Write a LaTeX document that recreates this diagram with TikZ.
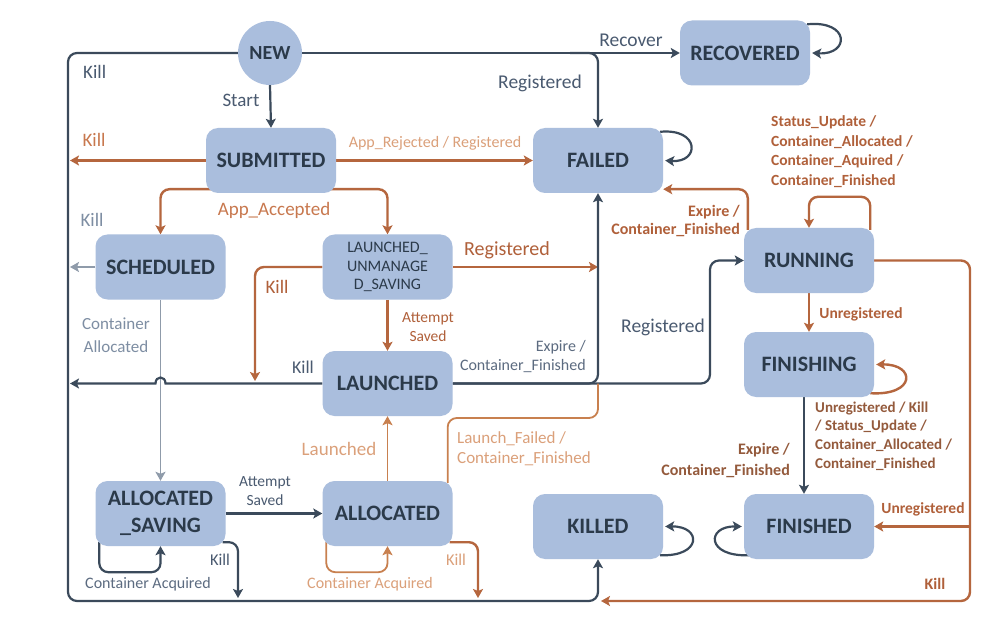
\documentclass[tikz,border=0pt]{standalone}
\usepackage{fontspec}
\setmainfont{Carlito}
\usetikzlibrary{arrows.meta,calc,backgrounds}
\definecolor{nfill}{HTML}{AABEDD}
\definecolor{ntext}{HTML}{2B3A4A}
\definecolor{dk}{HTML}{3B4A5B}
\definecolor{dktext}{HTML}{4A5A70}
\definecolor{dktext2}{HTML}{5C6B80}
\definecolor{orl}{HTML}{B5663E}
\definecolor{ortext}{HTML}{B0603A}
\definecolor{morange}{HTML}{C8784E}
\definecolor{lor}{HTML}{DBA07A}
\definecolor{lorline}{HTML}{C8804F}
\definecolor{grl}{HTML}{8F9BAA}
\definecolor{grtext}{HTML}{7E8EA3}
\definecolor{brtext}{HTML}{945A3C}
\newcommand\ffs[2]{\fontsize{#1}{#2}\selectfont}
\begin{document}
\begin{tikzpicture}[x=1pt,y=-1pt,
  state/.style={rectangle, rounded corners=12pt, fill=nfill, minimum width=130pt, minimum height=65pt, inner sep=0pt, text=ntext, align=center, font=\ffs{22}{27}\bfseries},
  hd/.style={-{Stealth[length=9pt,width=10pt,inset=2pt]}},
  dka/.style={draw=dk, line width=2.2pt, rounded corners=9pt, hd},
  ora/.style={draw=orl, line width=2.4pt, rounded corners=9pt, hd},
  lora/.style={draw=lorline, line width=1.8pt, rounded corners=9pt, hd},
  lorn/.style={draw=lorline, line width=1.8pt, rounded corners=9pt},
  gra/.style={draw=grl, line width=1.6pt, -{Stealth[length=9pt,width=10pt,inset=2pt]}},
  lab/.style={inner sep=0pt, align=center}
]
\useasboundingbox (0,0) rectangle (1007,639);

% states
\node[state, circle, minimum width=64pt, minimum height=64pt, font=\ffs{20}{24}\bfseries] (new) at (270,53) {NEW};
\node[state] (sub) at (271,160.5) {SUBMITTED};
\node[state] (failed) at (598,160.5) {FAILED};
\node[state] (recov) at (745,53) {RECOVERED};
\node[state] (sched) at (160.5,267) {SCHEDULED};
\node[state, font=\ffs{16}{18.5}] (lus) at (387.5,267) {LAUNCHED\_\\UNMANAGE\\D\_SAVING};
\node[state] (running) at (809,260.5) {RUNNING};
\node[state] (launched) at (387.5,383.5) {LAUNCHED};
\node[state] (finishing) at (809,364.5) {FINISHING};
\node[state] (asav) at (160.5,513.5) {ALLOCATED\\\_SAVING};
\node[state] (alloc) at (387.5,513.5) {ALLOCATED};
\node[state] (killed) at (598,526.5) {KILLED};
\node[state] (finished) at (809,526.5) {FINISHED};

% helper coordinates
\coordinate (ftl) at (68,53);
\coordinate (fbl) at (68,601);
\coordinate (rgb) at (570,53);
\coordinate (lk) at (255,381);
\coordinate (rj) at (710,383.5);
\coordinate (lf) at (598,418);
\coordinate (ak) at (238,598);
\coordinate (alk) at (478,598);
\coordinate (rr) at (970,601);
\coordinate (kb) at (601,601);

\begin{scope}[on background layer]
\fill[white] (0,0) rectangle (1007,639);
% outer frame (Kill) and top line
\draw[dka] (new.west) -- (ftl) -- (fbl) -| (killed.south);
\draw[dka] (new.east) -- (recov.west);
\draw[dka] (rgb) -| (failed.north);
\draw[dka] (new.south) -- (sub.north);
% SUBMITTED
\draw[ora] (sub.west) -- ($(sub.west -| ftl)+(2,0)$);
\draw[ora] (sub.east) -- (failed.west);
\draw[ora] ($(sub.south west)+(6,-4)$) -| (sched.north);
\draw[ora] ($(sub.south east)+(-6,-4)$) -| (lus.north);
% SCHEDULED
\draw[gra] (sched.west) -- ($(sched.west -| ftl)+(2,0)$);
\draw[gra] (sched.south) -- (asav.north);
% LAUNCHED_UNMANAGED_SAVING
\draw[ora] (lus.west) -| (lk);
\draw[ora] (lus.east) -- (lus.east -| failed.south);
\draw[ora] (lus.south) -- (launched.north);
% LAUNCHED
\draw[dka, sharp corners] (launched.west) -- ($(launched.west -| sched.south)+(5,0)$) .. controls ($(launched.west -| sched.south)+(5,-8)$) and ($(launched.west -| sched.south)+(-5,-8)$) .. ($(launched.west -| sched.south)+(-5,0)$) -- ($(launched.west -| ftl)+(2,0)$);
\draw[dka] (launched.east) -| (failed.south);
\draw[dka] (launched.east) -- (rj) |- (running.west);
% ALLOCATED
\draw[lorn] ($(alloc.north east)+(-5,2)$) |- (lf) -- (launched.east -| failed.south);
\draw[lora] (alloc.north) -- (launched.south);
\draw[lora] ($(alloc.south west)+(4,-4)$) -- ++(0,30) -| (alloc.south);
\draw[ora] ($(alloc.south east)+(-3,-4)$) -| (alk);
% ALLOCATED_SAVING
\draw[dka] (asav.east) -- (alloc.west);
\draw[dka] ($(asav.south west)+(4,-4)$) -- ++(0,30) -| (asav.south);
\draw[dka] ($(asav.south east)+(-3,-4)$) -| (ak);
% self loops
\draw[dka] ($(failed.north east)+(-3,4)$) .. controls (700,128) and (700,163) .. ($(failed.east)+(2,0)$);
\draw[dka] ($(recov.north east)+(-3,4)$) .. controls (850,20) and (850,55) .. ($(recov.east)+(2,0)$);
\draw[dka] ($(killed.south east)+(-3,-4)$) .. controls (702,557) and (702,526) .. ($(killed.east)+(2,0)$);
\draw[dka] ($(finished.south west)+(5,-4)$) .. controls (706,557) and (706,526) .. ($(finished.west)+(-2,0)$);
% RUNNING
\draw[ora] ($(running.north west)+(4,2)$) |- ($(failed.south east)+(0,-4)$);
\draw[ora] ($(running.north east)+(-4,2)$) -- ++(0,-33) -| (running.north);
\draw[ora] (running.south) -- (finishing.north);
\draw[ora] (running.east) -| (rr) -- (kb);
\draw[ora] (finished.east -| rr) -- (finished.east);
% FINISHING
\draw[ora] ($(finishing.south east)+(-4,-4)$) .. controls (916,396) and (916,364) .. ($(finishing.east)+(2,0)$);
\draw[dka] ($(finishing.south)+(-5,0)$) -- ($(finished.north)+(-5,0)$);
\end{scope}

% labels
\node[lab, anchor=west, text=dktext, font=\ffs{19}{22}] (l1) at (83,72) {Kill};
\node[lab, text=dktext, font=\ffs{19}{22}] (l2) at (241,100) {Start};
\node[lab, text=morange, font=\ffs{19}{22}] (l3) at (94,140) {Kill};
\node[lab, text=morange, font=\ffs{19}{22}] (l4) at (274,210) {App\_Accepted};
\node[lab, text=lor, font=\ffs{16}{19}] (l5) at (435,143) {App\_Rejected / Registered};
\node[lab, text=dktext, font=\ffs{19.5}{22}] (l6) at (540,83) {Registered};
\node[lab, text=dktext, font=\ffs{19.5}{22}] (l7) at (631,40) {Recover};
\node[lab, text=grtext, font=\ffs{19}{22}] (l8) at (92,220) {Kill};
\node[lab, text=grtext, font=\ffs{17}{23}] (l9) at (116,335) {Container\\Allocated};
\node[lab, text=ortext, font=\ffs{19}{22}] (l10) at (277,287) {Kill};
\node[lab, text=ortext, font=\ffs{20}{22}] (l11) at (507,250) {Registered};
\node[lab, text=ortext, font=\ffs{15.5}{19}] (l12) at (428,327) {Attempt\\Saved};
\node[lab, text=dktext, font=\ffs{18}{22}] (l13) at (303,367) {Kill};
\node[lab, anchor=east, align=right, text=dktext2, font=\ffs{16}{19}] (l14) at (586,357) {Expire /\\Container\_Finished};
\node[lab, text=dktext, font=\ffs{19.5}{22}] (l15) at (663,327) {Registered};
\node[lab, anchor=east, align=right, text=ortext, font=\ffs{16}{18}\bfseries] (l16) at (740,221) {Expire /\\Container\_Finished};
\node[lab, anchor=west, align=left, text=ortext, font=\ffs{15.5}{19.6}\bfseries] (l17) at (771,151.5) {Status\_Update /\\Container\_Allocated /\\Container\_Aquired /\\Container\_Finished};
\node[lab, text=ortext, font=\ffs{15.5}{18}\bfseries] (l18) at (861,314) {Unregistered};
\node[lab, anchor=west, align=left, text=brtext, font=\ffs{15}{18.7}\bfseries] (l19) at (815,436) {Unregistered / Kill\\/ Status\_Update /\\Container\_Allocated /\\Container\_Finished};
\node[lab, anchor=east, align=right, text=brtext, font=\ffs{16}{21}\bfseries] (l20) at (790,461) {Expire /\\Container\_Finished};
\node[lab, text=lor, font=\ffs{19}{22}] (l21) at (339,449) {Launched};
\node[lab, anchor=west, align=left, text=lor, font=\ffs{17}{20}] (l22) at (457,449) {Launch\_Failed /\\Container\_Finished};
\node[lab, text=dktext, font=\ffs{15.5}{19}] (l23) at (265,491.5) {Attempt\\Saved};
\node[lab, text=dktext, font=\ffs{16.5}{19}] (l24) at (220,560) {Kill};
\node[lab, text=dktext2, font=\ffs{16}{19}] (l25) at (148,584) {Container Acquired};
\node[lab, text=lor, font=\ffs{16}{19}] (l26) at (370,584) {Container Acquired};
\node[lab, text=lor, font=\ffs{16.5}{19}] (l27) at (456,560) {Kill};
\node[lab, text=ortext, font=\ffs{15.5}{18}\bfseries] (l28) at (923,509) {Unregistered};
\node[lab, text=ortext, font=\ffs{16}{18}\bfseries] (l29) at (935,584) {Kill};
\end{tikzpicture}
\end{document}
